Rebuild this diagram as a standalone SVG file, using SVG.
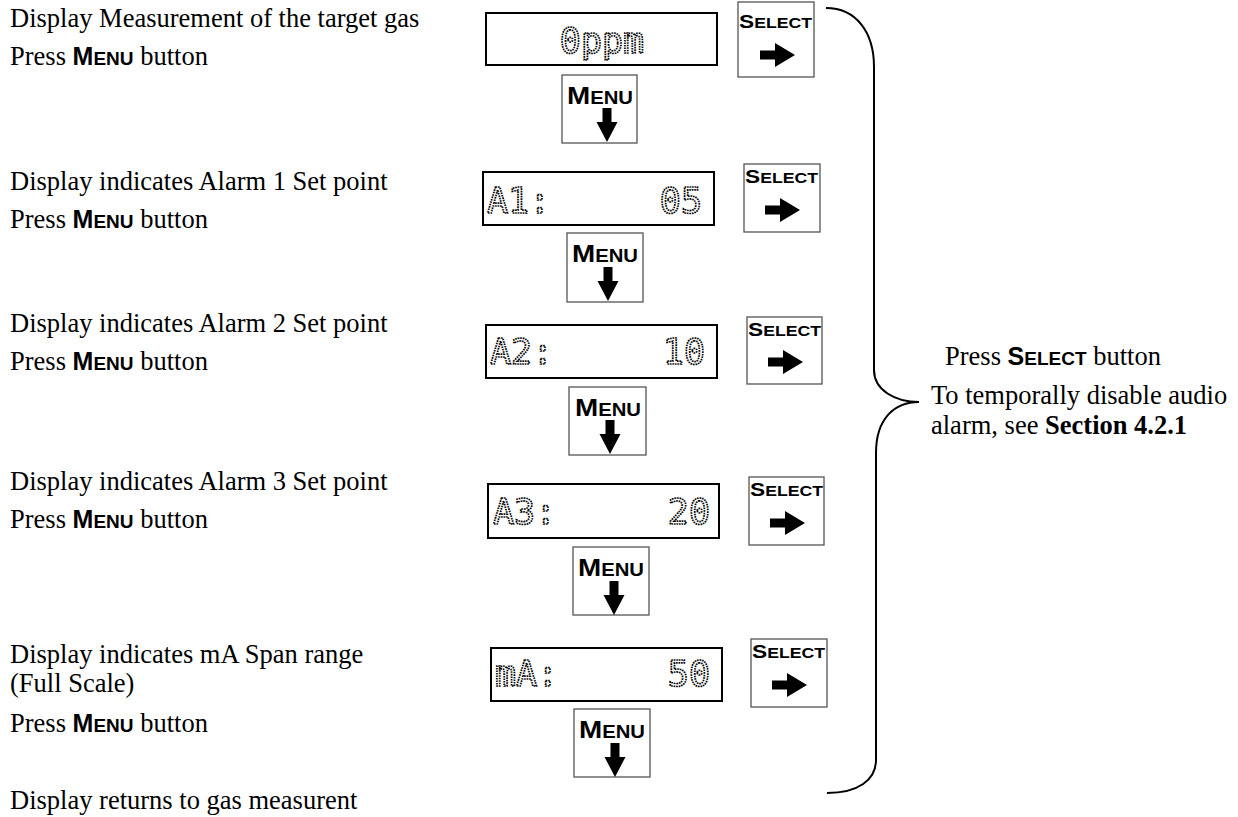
<svg xmlns="http://www.w3.org/2000/svg" xmlns:xlink="http://www.w3.org/1999/xlink" width="1238" height="817" viewBox="0 0 1238 817">
<style>
.disp{fill:#fff;stroke:#000;stroke-width:2}
.btn{fill:#fff;stroke:#555;stroke-width:1.3}
.lcd{font-family:"DejaVu Sans Mono",monospace;font-size:35px;fill:none;stroke:#000;stroke-width:1.7;stroke-dasharray:1.6 0.9}
.lbl{font-family:"Liberation Serif","Times New Roman",serif;font-size:26.5px;fill:#000}
.sc{font-family:"Liberation Sans",Arial,sans-serif;font-weight:bold}
.big{font-size:25px}
.small{font-size:19px}
.bt{font-family:"Liberation Sans",Arial,sans-serif;font-weight:bold;fill:#000}
.bb{font-size:18px}
.bs{font-size:14px}
.mb{font-size:24px}
.ms{font-size:17.5px}
.brace{fill:none;stroke:#000;stroke-width:2}
</style>
<defs>
<path id="darr" d="M-4.5,0 H4.5 V14 H10.5 L0,34 L-10.5,14 H-4.5 Z" fill="#000"/>
<path id="rarr" d="M0,-4.5 H15 V-12 L35,0 L15,12 V4.5 H0 Z" fill="#000"/>
</defs>

<g id="labels">
<text class="lbl" x="10" y="27">Display Measurement of the target gas</text>
<text class="lbl" x="10" y="65">Press <tspan class="sc big">M</tspan><tspan class="sc small">ENU</tspan> button</text>
<text class="lbl" x="10" y="190">Display indicates Alarm 1 Set point</text>
<text class="lbl" x="10" y="228">Press <tspan class="sc big">M</tspan><tspan class="sc small">ENU</tspan> button</text>
<text class="lbl" x="10" y="332">Display indicates Alarm 2 Set point</text>
<text class="lbl" x="10" y="370">Press <tspan class="sc big">M</tspan><tspan class="sc small">ENU</tspan> button</text>
<text class="lbl" x="10" y="490">Display indicates Alarm 3 Set point</text>
<text class="lbl" x="10" y="528">Press <tspan class="sc big">M</tspan><tspan class="sc small">ENU</tspan> button</text>
<text class="lbl" x="10" y="663">Display indicates mA Span range</text>
<text class="lbl" x="10" y="692">(Full Scale)</text>
<text class="lbl" x="10" y="732">Press <tspan class="sc big">M</tspan><tspan class="sc small">ENU</tspan> button</text>
<text class="lbl" x="10" y="809">Display returns to gas measurent</text>
</g>

<g id="row1">
<rect class="disp" x="486" y="13" width="231" height="52"/>
<text class="lcd" x="602" y="53" text-anchor="middle">0ppm</text>
</g>
<g id="select1">
<rect class="btn" x="738" y="2" width="76" height="75"/>
<text class="bt" x="739" y="28" textLength="73" lengthAdjust="spacingAndGlyphs"><tspan class="bb">S</tspan><tspan class="bs">ELECT</tspan></text>
<use xlink:href="#rarr" x="760" y="55"/>
</g>
<g id="menu1">
<rect class="btn" x="562" y="75" width="75" height="68"/>
<text class="bt" x="567" y="104" textLength="66" lengthAdjust="spacingAndGlyphs"><tspan class="mb">M</tspan><tspan class="ms">ENU</tspan></text>
<use xlink:href="#darr" x="607" y="108"/>
</g>

<g id="row2">
<rect class="disp" x="483" y="172" width="231" height="53"/>
<text class="lcd" x="487" y="213">A1:</text>
<text class="lcd" x="702" y="213" text-anchor="end">05</text>
</g>
<g id="select2">
<rect class="btn" x="744" y="164" width="76" height="68"/>
<text class="bt" x="745" y="183" textLength="73" lengthAdjust="spacingAndGlyphs"><tspan class="bb">S</tspan><tspan class="bs">ELECT</tspan></text>
<use xlink:href="#rarr" x="765" y="210"/>
</g>
<g id="menu2">
<rect class="btn" x="567" y="233" width="76" height="69"/>
<text class="bt" x="572" y="262" textLength="66" lengthAdjust="spacingAndGlyphs"><tspan class="mb">M</tspan><tspan class="ms">ENU</tspan></text>
<use xlink:href="#darr" x="608" y="267"/>
</g>

<g id="row3">
<rect class="disp" x="486" y="325" width="231" height="53"/>
<text class="lcd" x="490" y="364">A2:</text>
<text class="lcd" x="705" y="364" text-anchor="end">10</text>
</g>
<g id="select3">
<rect class="btn" x="747" y="317" width="75" height="67"/>
<text class="bt" x="748" y="336" textLength="73" lengthAdjust="spacingAndGlyphs"><tspan class="bb">S</tspan><tspan class="bs">ELECT</tspan></text>
<use xlink:href="#rarr" x="768" y="362"/>
</g>
<g id="menu3">
<rect class="btn" x="569" y="387" width="77" height="68"/>
<text class="bt" x="575" y="416" textLength="66" lengthAdjust="spacingAndGlyphs"><tspan class="mb">M</tspan><tspan class="ms">ENU</tspan></text>
<use xlink:href="#darr" x="610" y="420"/>
</g>

<g id="row4">
<rect class="disp" x="488" y="484" width="231" height="54"/>
<text class="lcd" x="493" y="524">A3:</text>
<text class="lcd" x="710" y="524" text-anchor="end">20</text>
</g>
<g id="select4">
<rect class="btn" x="749" y="477" width="75" height="68"/>
<text class="bt" x="750" y="496" textLength="73" lengthAdjust="spacingAndGlyphs"><tspan class="bb">S</tspan><tspan class="bs">ELECT</tspan></text>
<use xlink:href="#rarr" x="770" y="523"/>
</g>
<g id="menu4">
<rect class="btn" x="573" y="547" width="76" height="68"/>
<text class="bt" x="578" y="576" textLength="66" lengthAdjust="spacingAndGlyphs"><tspan class="mb">M</tspan><tspan class="ms">ENU</tspan></text>
<use xlink:href="#darr" x="614" y="581"/>
</g>

<g id="row5">
<rect class="disp" x="491" y="648" width="231" height="53"/>
<text class="lcd" x="495" y="686">mA:</text>
<text class="lcd" x="710" y="686" text-anchor="end">50</text>
</g>
<g id="select5">
<rect class="btn" x="751" y="639" width="76" height="68"/>
<text class="bt" x="752" y="658" textLength="73" lengthAdjust="spacingAndGlyphs"><tspan class="bb">S</tspan><tspan class="bs">ELECT</tspan></text>
<use xlink:href="#rarr" x="772" y="685"/>
</g>
<g id="menu5">
<rect class="btn" x="574" y="709" width="76" height="68"/>
<text class="bt" x="579" y="738" textLength="66" lengthAdjust="spacingAndGlyphs"><tspan class="mb">M</tspan><tspan class="ms">ENU</tspan></text>
<use xlink:href="#darr" x="615" y="743"/>
</g>

<g id="connectors">
<path class="brace" d="M826,8 C856,8 874,32 874,67 L874,370 C874,390 895,402 919,402 C895,402 876,418 876,453 L876,760 C876,780 858,793 827,793"/>
</g>

<g id="note">
<text class="lbl" x="945" y="365">Press <tspan class="sc big">S</tspan><tspan class="sc small">ELECT</tspan> button</text>
<text class="lbl" x="931" y="404">To temporally disable audio</text>
<text class="lbl" x="931" y="434">alarm, see <tspan font-weight="bold">Section 4.2.1</tspan></text>
</g>
</svg>
